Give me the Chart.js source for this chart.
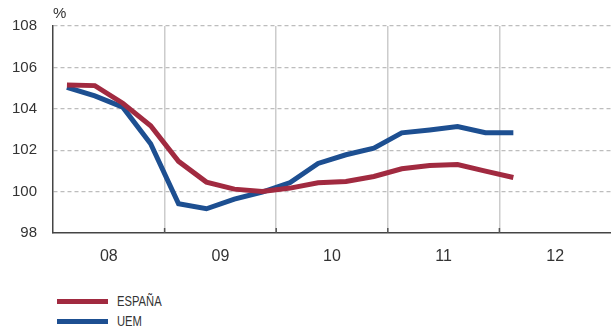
<!DOCTYPE html>
<html>
<head>
<meta charset="utf-8">
<script src="https://cdn.jsdelivr.net/npm/chart.js@4/dist/chart.umd.min.js"></script>
<style>
  body { margin: 0; background: #fff; }
  #wrap { position: relative; width: 611px; height: 335px; }
  #plot { position: absolute; left: 0; top: 0; width: 611px; height: 275px; }
  #unit { position: absolute; left: 53px; top: 4px; font: 15px "Liberation Sans", Arial, sans-serif; color: #333; }
  #legend { position: absolute; left: 57px; top: 291px; font: 14px "Liberation Sans", Arial, sans-serif; color: #333; }
  .item { display: flex; align-items: center; height: 20px; }
  .swatch { width: 51px; height: 5px; margin-right: 9px; }
  .txt { display: inline-block; transform: scaleX(0.8); transform-origin: left center; }
</style>
</head>
<body>
<div id="wrap">
  <div id="plot"><canvas id="chart"></canvas></div>
  <div id="unit">%</div>
  <div id="legend"></div>
</div>
<script>
// trimestres 2008 T1 - 2012 T1
const years = ['08', '09', '10', '11', '12'];
const espana = [105.15, 105.12, 104.27, 103.18, 101.46, 100.46, 100.12, 100.0, 100.17,
                100.43, 100.49, 100.73, 101.1, 101.26, 101.31, 100.99, 100.68];
const uem = [105.04, 104.62, 104.08, 102.31, 99.41, 99.17, 99.64, 99.98, 100.44,
             101.36, 101.78, 102.1, 102.84, 102.98, 103.14, 102.84, 102.84];

const series = [
  { label: 'ESPAÑA', data: espana, color: '#a12a40' },
  { label: 'UEM', data: uem, color: '#1d4f91' }
];

const toPoints = arr => arr.map((v, i) => ({ x: i + 0.5, y: v }));

// marcas cortas sobre el eje en el cambio de año
const yearTicks = {
  id: 'yearTicks',
  afterDraw(chart) {
    const { ctx, chartArea, scales } = chart;
    ctx.save();
    ctx.strokeStyle = '#555';
    ctx.lineWidth = 1.5;
    for (let y = 1; y < years.length; y++) {
      const px = scales.x.getPixelForValue(y * 4);
      ctx.beginPath();
      ctx.moveTo(px, chartArea.bottom - 5);
      ctx.lineTo(px, chartArea.bottom);
      ctx.stroke();
    }
    ctx.restore();
  }
};

new Chart(document.getElementById('chart'), {
  type: 'line',
  data: {
    datasets: series.map(s => ({
      label: s.label,
      data: toPoints(s.data),
      borderColor: s.color,
      backgroundColor: s.color,
      borderWidth: 5,
      pointRadius: 0,
      tension: 0,
      fill: false
    }))
  },
  options: {
    responsive: true,
    maintainAspectRatio: false,
    animation: false,
    layout: { padding: { top: 26, right: 0, left: 0, bottom: 0 } },
    plugins: { legend: { display: false }, tooltip: { enabled: false } },
    scales: {
      x: {
        type: 'linear',
        min: 0,
        max: years.length * 4,
        afterBuildTicks: s => {
          const t = [];
          for (let v = 0; v <= years.length * 4; v += 2) t.push({ value: v });
          s.ticks = t;
        },
        afterFit: s => {
          s.height = 42;
          s.paddingLeft = 0;
          s.paddingRight = 0;
        },
        ticks: {
          autoSkip: false,
          maxRotation: 0,
          padding: 14,
          color: '#333',
          font: { family: 'Liberation Sans', size: 16 },
          callback: v => (v % 4 === 2 ? years[(v - 2) / 4] : '')
        },
        grid: {
          drawTicks: false,
          lineWidth: 1.5,
          color: c => {
            const v = c.tick ? c.tick.value : 0;
            return v > 0 && v < years.length * 4 && v % 4 === 0 ? '#cccccc' : 'rgba(0,0,0,0)';
          }
        },
        border: { color: '#444', width: 1.5 }
      },
      y: {
        min: 98,
        max: 108,
        afterFit: s => { s.width = 53; },
        ticks: {
          stepSize: 2,
          padding: 16,
          color: '#333',
          font: { family: 'Liberation Sans', size: 15 }
        },
        grid: {
          drawTicks: false,
          lineWidth: 1.2,
          color: c => (c.tick && c.tick.value > 98 ? '#bdbdbd' : 'rgba(0,0,0,0)')
        },
        border: { color: '#444', width: 1.5, dash: [4, 3] }
      }
    }
  },
  plugins: [yearTicks]
});

const legend = document.getElementById('legend');
series.forEach(s => {
  const row = document.createElement('div');
  row.className = 'item';
  row.innerHTML = '<span class="swatch" style="background:' + s.color + '"></span>' +
    '<span class="txt">' + s.label + '</span>';
  legend.appendChild(row);
});
</script>
</body>
</html>
